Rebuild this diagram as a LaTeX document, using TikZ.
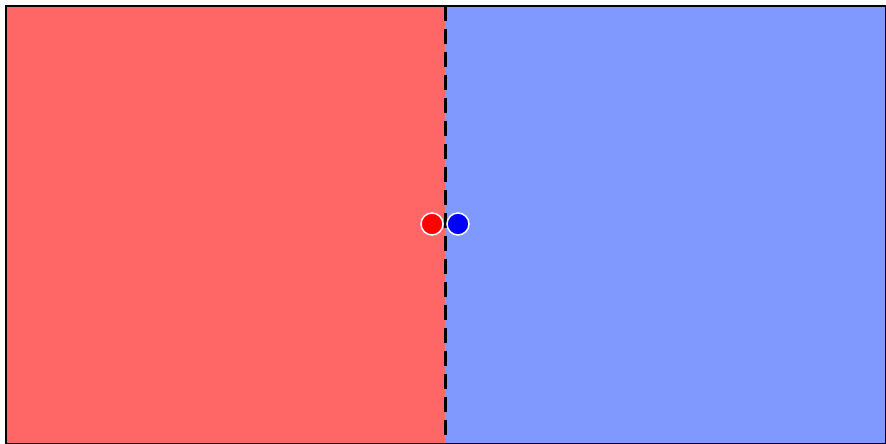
\documentclass[tikz,border=0pt]{standalone}
\begin{document}
\begin{tikzpicture}[x=1pt, y=1pt]
\definecolor{leftred}{RGB}{255,102,102}
\definecolor{rightblue}{RGB}{128,153,255}
\useasboundingbox (0,0) rectangle (886,444);
\fill[leftred] (6,0) rectangle (445,438);
\fill[rightblue] (445,0) rectangle (886,438);
\draw[line width=3pt, dash pattern=on 15pt off 8pt] (445,438) -- (445,0);
\draw[line width=2pt] (6,0) rectangle (886,438);
\node[circle, fill={rgb,255:red,255;green,0;blue,0}, draw=white, line width=1.5pt, minimum size=22pt, inner sep=0pt] (p1) at (432,220) {};
\node[circle, fill={rgb,255:red,0;green,0;blue,255}, draw=white, line width=1.5pt, minimum size=22pt, inner sep=0pt] (p2) at (458,220) {};
\end{tikzpicture}
\end{document}
